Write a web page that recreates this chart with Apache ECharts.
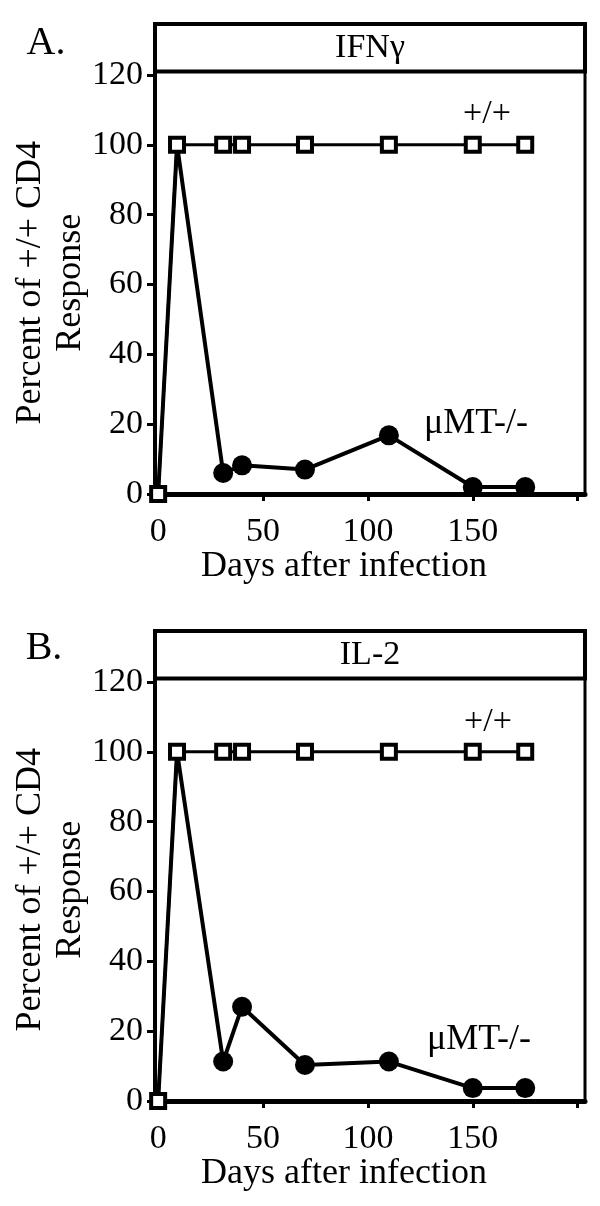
<!DOCTYPE html>
<html><head><meta charset="utf-8">
<script src="https://cdn.jsdelivr.net/npm/echarts@6/dist/echarts.min.js"></script>
<style>html,body{margin:0;padding:0;background:#fff}#c{width:600px;height:1206px}</style>
</head><body><div id="c"></div>
<script>
// ---- data ----
const days = [0, 9, 31, 40, 70, 110, 150, 175];
const wtA = [0, 100, 100, 100, 100, 100, 100, 100];
const mtA = [0, 100, 6, 8.2, 7, 16.8, 2, 2];
const wtB = [0, 100, 100, 100, 100, 100, 100, 100];
const mtB = [0, 100, 11.3, 27, 10.3, 11.3, 3.7, 3.7];
const xTicks = [0, 50, 100, 150, 200];
const xLabels = [0, 50, 100, 150];
const yTicks = [0, 20, 40, 60, 80, 100, 120];
const panelTitles = ['IFNγ', 'IL-2'];
const panelLetters = ['A.', 'B.'];
const seriesNames = ['+/+', 'μMT-/-'];
const xName = 'Days after infection';
const yName = 'Percent of +/+ CD4\nResponse';

// ---- layout ----
const FONT = '"Liberation Serif", "Times New Roman", serif';
const L = 155, W = 430;
const panels = [
  {top: 71.5, bottom: 494, hdrTop: 24, letter: [46, 43], wt: [487, 114], mt: [476, 424], wtData: wtA, mtData: mtA},
  {top: 678.5, bottom: 1101, hdrTop: 631, letter: [44, 648], wt: [488, 722], mt: [479, 1040], wtData: wtB, mtData: mtB}
];

const grid = [], xAxis = [], yAxis = [], series = [], graphic = [];
panels.forEach((p, i) => {
  grid.push({left: L, width: W, top: p.top, height: p.bottom - p.top, show: true,
    outerBoundsMode: 'none', containLabel: false,
    borderColor: '#000', borderWidth: 3, backgroundColor: 'transparent'});
  xAxis.push({
    gridIndex: i, type: 'value', min: -1.5, max: 203.5,
    axisLine: {onZero: false, lineStyle: {color: '#000', width: 5}},
    axisTick: {show: true, customValues: xTicks, length: 7, lineStyle: {color: '#000', width: 3}},
    axisLabel: {customValues: xLabels, fontSize: 34, color: '#000', fontFamily: FONT, margin: 21},
    splitLine: {show: false},
    name: xName, nameLocation: 'middle', nameGap: 55, nameMoveOverlap: false,
    nameTextStyle: {fontSize: 36, color: '#000', fontFamily: FONT, padding: [0, 52, 0, 0]}
  });
  yAxis.push({
    gridIndex: i, type: 'value', min: 0, max: 121,
    axisLine: {onZero: false, lineStyle: {color: '#000', width: 4}},
    axisTick: {show: true, customValues: yTicks, length: 8, lineStyle: {color: '#000', width: 3}},
    axisLabel: {customValues: yTicks, fontSize: 34, color: '#000', fontFamily: FONT, margin: 12},
    splitLine: {show: false},
    name: yName, nameLocation: 'middle', nameRotate: 90, nameGap: 64, nameMoveOverlap: false,
    nameTextStyle: {fontSize: 36, lineHeight: 40, color: '#000', fontFamily: FONT, align: 'center'}
  });
  series.push({
    name: seriesNames[1], type: 'line', xAxisIndex: i, yAxisIndex: i, z: 2,
    symbol: 'circle', symbolSize: 20,
    itemStyle: {color: '#000'}, lineStyle: {color: '#000', width: 4},
    data: days.map((d, k) => k < 2 ? {value: [d, p.mtData[k]], symbol: 'none'} : [d, p.mtData[k]])
  });
  series.push({
    name: seriesNames[0], type: 'line', xAxisIndex: i, yAxisIndex: i, z: 3,
    symbol: 'rect', symbolSize: 14,
    itemStyle: {color: '#fff', borderColor: '#000', borderWidth: 4},
    lineStyle: {color: '#000', width: 3},
    data: days.map((d, k) => [d, p.wtData[k]])
  });
  graphic.push({type: 'rect', shape: {x: L, y: p.hdrTop, width: W, height: p.top - p.hdrTop},
    style: {fill: 'none', stroke: '#000', lineWidth: 4}, z: 10});
  graphic.push({type: 'text', x: L + W / 2, y: (p.hdrTop + p.top) / 2,
    style: {text: panelTitles[i], font: '34px ' + FONT, fill: '#000', align: 'center', verticalAlign: 'middle'}});
  graphic.push({type: 'text', x: p.letter[0], y: p.letter[1],
    style: {text: panelLetters[i], font: '40px ' + FONT, fill: '#000', align: 'center', verticalAlign: 'middle'}});
  graphic.push({type: 'text', x: p.wt[0], y: p.wt[1],
    style: {text: seriesNames[0], font: '34px ' + FONT, fill: '#000', align: 'center', verticalAlign: 'middle'}});
  graphic.push({type: 'text', x: p.mt[0], y: p.mt[1],
    style: {text: seriesNames[1], font: '36px ' + FONT, fill: '#000', align: 'center', verticalAlign: 'middle'}});
});

const chart = echarts.init(document.getElementById('c'));
chart.setOption({animation: false, backgroundColor: '#fff', grid, xAxis, yAxis, series, graphic});
</script>
</body></html>
